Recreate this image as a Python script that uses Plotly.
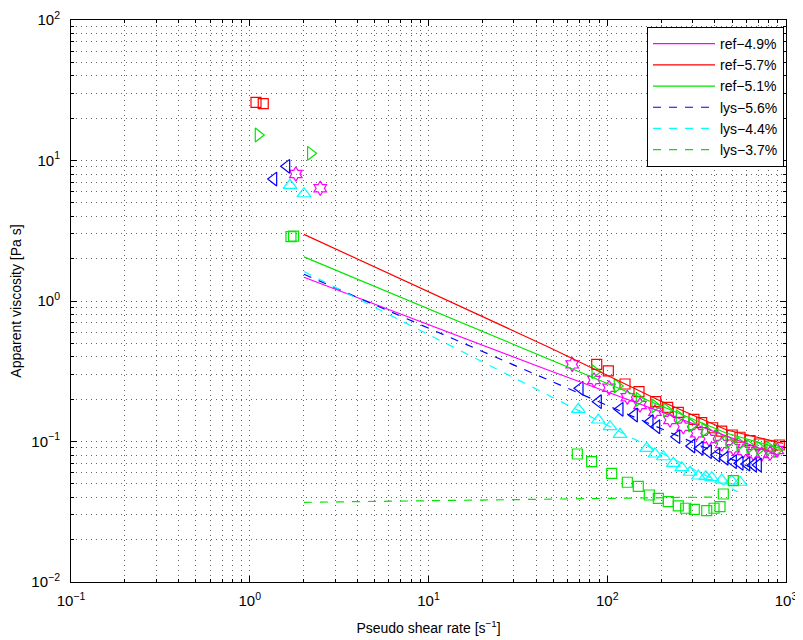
import plotly.graph_objects as go

# ---------------- data ----------------
# ref-4.9% (magenta, hexagram markers)
ref49_x = [1.81, 2.48, 63.7, 84.3, 102.3, 129.5, 152.5, 185, 224.4, 266.3, 316.5, 370.9,
           436.9, 507.2, 576.9, 656.2, 731.3, 813.9, 894]
ref49_y = [8.01, 6.34, 0.354, 0.274, 0.2415, 0.2064, 0.1819, 0.1629, 0.1422, 0.1274, 0.1144,
           0.1042, 0.0960, 0.0894, 0.0856, 0.0824, 0.0815, 0.0824, 0.087]
ref49_fit_x = [2.01, 47.8, 902]
ref49_fit_y = [1.475, 0.319, 0.0801]

# ref-5.7% (red, squares)
ref57_x = [1.084, 1.19, 87.3, 101.4, 125.7, 150.5, 186.7, 217.9, 249.7, 305.7, 337.6, 389,
           436.9, 500.6, 552.9, 628.9, 708.9, 813.9, 917.5]
ref57_y = [25.96, 25.4, 0.3544, 0.3177, 0.2566, 0.2262, 0.192, 0.1752, 0.1613, 0.1439, 0.1361,
           0.1253, 0.1187, 0.1112, 0.1072, 0.1013, 0.096, 0.0929, 0.0944]
ref57_fit_x = [2.01, 47.8, 197.3, 466, 962]
ref57_fit_y = [2.98, 0.4653, 0.195, 0.1208, 0.0971]

# ref-5.1% (green, right triangles)
ref51_x = [1.116, 2.19, 85.4, 113.8, 151.1, 185, 215.1, 253, 296.9, 352.4, 418.2, 479.8,
           552.9, 628.9, 715.3, 813.9, 887]
ref51_y = [15.19, 11.25, 0.3139, 0.2483, 0.1997, 0.179, 0.1676, 0.1502, 0.131, 0.1208,
           0.1082, 0.0997, 0.096, 0.0918, 0.0894, 0.0894, 0.087]
ref51_fit_x = [2.01, 47.8, 197.3, 466, 925.6]
ref51_fit_y = [2.06, 0.3846, 0.1819, 0.1144, 0.0894]

# lys-5.6% (blue, left triangles)
lys56_x = [1.361, 1.609, 70.4, 89.1, 117.8, 141.7, 173.4, 189.1, 244.7, 296.9, 330.3, 367.6,
           409.6, 455.7, 507.2, 552.9, 602.8, 656.2, 699.8]
lys56_y = [7.38, 9.09, 0.2391, 0.192, 0.1695, 0.1544, 0.1383, 0.1274, 0.1082, 0.0929, 0.0894,
           0.0846, 0.0801, 0.0759, 0.0718, 0.070, 0.0692, 0.068, 0.068]
lys56_fit_x = [2.01, 40.5, 699.8]
lys56_fit_y = [1.549, 0.2974, 0.062]

# lys-4.4% (cyan, up triangles)
lys44_x = [1.68, 2.01, 68.9, 89.1, 103.6, 117.8, 166.2, 185, 205.9, 234.2, 260.9, 290.4,
           323.1, 355.6, 384, 436.9, 496.8, 552.9]
lys44_y = [6.66, 5.80, 0.1695, 0.1422, 0.1274, 0.1125, 0.0894, 0.0815, 0.0779, 0.0699, 0.0651,
           0.0604, 0.0568, 0.0562, 0.0553, 0.0532, 0.0524, 0.0513]
lys44_fit_x = [2.01, 46.6, 538.9]
lys44_fit_y = [1.62, 0.2143, 0.0437]

# lys-3.7% (green, squares)
lys37_x = [1.70, 1.76, 68.0, 81.8, 105.9, 129.5, 149.2, 171.9, 193.1, 219.5, 249.7, 274.7,
           306.9, 360.1, 395.6, 427.4, 445.9, 507.2]
lys37_y = [2.87, 2.90, 0.0815, 0.0718, 0.0594, 0.0513, 0.048, 0.0416, 0.0394, 0.0373, 0.0348,
           0.0335, 0.0329, 0.0322, 0.0335, 0.0344, 0.0423, 0.0526]
lys37_fit_x = [2.01, 67.7, 427.4]
lys37_fit_y = [0.0369, 0.039, 0.0403]

# tick labels / tick positions
x_tickvals = [0.1, 1, 10, 100, 1000]
x_ticktext = ["10<sup>\u22121</sup>", "10<sup>0</sup>", "10<sup>1</sup>", "10<sup>2</sup>", "10<sup>3</sup>"]
y_tickvals = [0.01, 0.1, 1, 10, 100]
y_ticktext = ["10<sup>\u22122</sup>", "10<sup>\u22121</sup>", "10<sup>0</sup>", "10<sup>1</sup>", "10<sup>2</sup>"]
minor_mult = [2, 3, 4, 5, 6, 7, 8, 9]
x_minor = [d * m for d in x_tickvals[:-1] for m in minor_mult]
y_minor = [d * m for d in y_tickvals[:-1] for m in minor_mult]

# ---------------- styling ----------------
MAG = "rgb(255,0,255)"
RED = "rgb(255,0,0)"
GRN = "rgb(0,230,0)"
BLU = "rgb(0,0,255)"
CYA = "rgb(0,255,255)"
DASH = "8px,8px"
FONT = "Liberation Sans, Arial, sans-serif"

series = [
    ("ref\u22124.9%", ref49_x, ref49_y, ref49_fit_x, ref49_fit_y, MAG, "hexagram-open", "solid", 11),
    ("ref\u22125.7%", ref57_x, ref57_y, ref57_fit_x, ref57_fit_y, RED, "square-open", "solid", 10),
    ("ref\u22125.1%", ref51_x, ref51_y, ref51_fit_x, ref51_fit_y, GRN, "triangle-right-open", "solid", 12),
    ("lys\u22125.6%", lys56_x, lys56_y, lys56_fit_x, lys56_fit_y, BLU, "triangle-left-open", DASH, 12),
    ("lys\u22124.4%", lys44_x, lys44_y, lys44_fit_x, lys44_fit_y, CYA, "triangle-up-open", DASH, 12),
    ("lys\u22123.7%", lys37_x, lys37_y, lys37_fit_x, lys37_fit_y, GRN, "square-open", DASH, 10),
]

fig = go.Figure()
for name, mx, my, fx, fy, col, sym, dash, msz in series:
    fig.add_trace(go.Scatter(x=mx, y=my, mode="markers", showlegend=False,
                             marker=dict(symbol=sym, size=msz, color=col,
                                         line=dict(color=col, width=1.2))))
for name, mx, my, fx, fy, col, sym, dash, msz in series:
    fig.add_trace(go.Scatter(x=fx, y=fy, mode="lines", name=name,
                             line=dict(color=col, width=1.2, dash=dash)))

grid_col = "rgba(0,0,0,0.6)"
axis_common = dict(
    type="log", automargin=False,
    showline=True, linecolor="black", linewidth=1, mirror="allticks",
    ticks="inside", ticklen=6, tickcolor="black", tickwidth=1,
    showgrid=True, gridcolor=grid_col, griddash="1px,4px", gridwidth=1,
    zeroline=False,
    tickfont=dict(family=FONT, size=15, color="black"),
)

fig.update_xaxes(range=[-1, 3], tickmode="array", tickvals=x_tickvals, ticktext=x_ticktext,
                 ticklabelstandoff=5,
                 minor=dict(tickmode="array", tickvals=x_minor, ticks="inside", ticklen=3,
                            tickcolor="black", showgrid=True, gridcolor=grid_col,
                            griddash="1px,4px", gridwidth=1),
                 title=dict(text="Pseudo shear rate [s<sup>\u22121</sup>]",
                            font=dict(family=FONT, size=14, color="black")),
                 **axis_common)
fig.update_yaxes(range=[-2, 2], tickmode="array", tickvals=y_tickvals, ticktext=y_ticktext,
                 ticklabelstandoff=7,
                 minor=dict(tickmode="array", tickvals=y_minor, ticks="inside", ticklen=3,
                            tickcolor="black", showgrid=True, gridcolor=grid_col,
                            griddash="1px,4px", gridwidth=1),
                 title=dict(text="Apparent viscosity [Pa s]",
                            font=dict(family=FONT, size=14, color="black")),
                 **axis_common)

fig.update_layout(
    width=795, height=632,
    margin=dict(l=63, r=17, t=12, b=58),
    paper_bgcolor="white", plot_bgcolor="white",
    font=dict(family=FONT, size=14, color="black"),
    legend=dict(x=0.9972, y=0.9875, xanchor="right", yanchor="top",
                bgcolor="white", bordercolor="black", borderwidth=1,
                font=dict(size=14), tracegroupgap=0, itemwidth=62),
)

fig.write_html("out.html")
